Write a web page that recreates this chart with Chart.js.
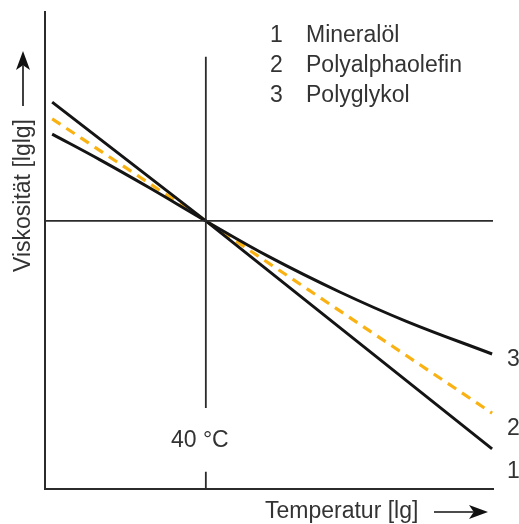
<!DOCTYPE html>
<html>
<head>
<meta charset="utf-8">
<script src="https://cdn.jsdelivr.net/npm/chart.js@4.4.1/dist/chart.umd.min.js"></script>
<style>
  body { margin: 0; background: #fff; }
  #wrap { width: 519px; height: 524px; }
</style>
</head>
<body>
<div id="wrap"><canvas id="viscChart" width="519" height="524"></canvas></div>
<script>
// Curve names and numbers
const curveNumbers = ['1', '2', '3'];
const curveNames = ['Mineralöl', 'Polyalphaolefin', 'Polyglykol'];

// Curve values (abstract log units)
const mineraloelX = [1.6, 35.9, 99.8];
const mineraloelY = [81.1, 56.2, 8.4];
const polyalphaX = [1.6, 35.9, 99.8];
const polyalphaY = [77.6, 56.2, 15.9];
const polyglykolX = [1.6, 12.3, 23.4, 35.9, 50.2, 65.8, 80.8, 99.8];
const polyglykolY = [74.4, 69.0, 63.1, 56.2, 48.6, 41.3, 35.1, 28.3];

// Reference lines (40 °C and the viscosity at 40 °C)
const refTempX = 35.9;
const refTempLabel = '40 °C';
const refLineUpperY = [90.6, 17.0];
const refLineLowerY = [3.6, 0];
const refViscY = 56.2;
const refViscX = [0, 100];

const xTitle = 'Temperatur [lg]';
const yTitle = 'Viskosität [lglg]';

function toPoints(xs, ys) {
    return xs.map((x, i) => ({ x: x, y: ys[i] }));
}

const FONT = '23px "Liberation Sans", Arial, sans-serif';
const TEXT_COLOR = '#333';

// line with a filled arrow head at (x2, y2)
function arrow(ctx, x1, y1, x2, y2) {
    const ang = Math.atan2(y2 - y1, x2 - x1);
    const c = Math.cos(ang), s = Math.sin(ang);
    const len = 19, half = 7, back = 0.75;
    ctx.beginPath();
    ctx.moveTo(x1, y1);
    ctx.lineTo(x2 - c * len * back, y2 - s * len * back);
    ctx.stroke();
    ctx.beginPath();
    ctx.moveTo(x2, y2);
    ctx.lineTo(x2 - c * len - s * half, y2 - s * len + c * half);
    ctx.lineTo(x2 - c * len * back, y2 - s * len * back);
    ctx.lineTo(x2 - c * len + s * half, y2 - s * len - c * half);
    ctx.closePath();
    ctx.fill();
}

// Texts, legend and axis arrows
const textPlugin = {
    id: 'texts',
    afterDraw(chart) {
        const ctx = chart.ctx;
        ctx.save();
        ctx.font = FONT;
        ctx.fillStyle = TEXT_COLOR;
        ctx.textAlign = 'left';
        ctx.textBaseline = 'alphabetic';

        // legend block
        curveNumbers.forEach((num, i) => {
            ctx.fillText(num, 270, 42 + i * 30);
            ctx.fillText(curveNames[i], 306, 42 + i * 30);
        });

        // curve numbers at the right end
        ctx.fillText(curveNumbers[2], 507, 366);
        ctx.fillText(curveNumbers[1], 507, 435);
        ctx.fillText(curveNumbers[0], 507, 478);

        // 40 °C label
        const xs = chart.scales.x;
        ctx.textAlign = 'center';
        ctx.fillText(refTempLabel, xs.getPixelForValue(refTempX) - 6, 447);

        // x title and arrow
        ctx.textAlign = 'left';
        ctx.fillText(xTitle, 265, 518);
        ctx.strokeStyle = '#111';
        ctx.fillStyle = '#111';
        ctx.lineWidth = 1.6;
        arrow(ctx, 434, 512, 488, 512);

        // y title and arrow
        ctx.fillStyle = TEXT_COLOR;
        ctx.save();
        ctx.translate(30, 272);
        ctx.rotate(-Math.PI / 2);
        ctx.fillText(yTitle, 0, 0);
        ctx.restore();
        ctx.fillStyle = '#111';
        arrow(ctx, 23, 106, 23, 51);

        ctx.restore();
    }
};

const ctx = document.getElementById('viscChart').getContext('2d');

const chart = new Chart(ctx, {
    type: 'scatter',
    data: {
        datasets: [
            {
                label: 'ref 40',
                data: toPoints([refTempX, refTempX, refTempX, refTempX, refTempX],
                               [refLineUpperY[0], refLineUpperY[1], null, refLineLowerY[0], refLineLowerY[1]]),
                showLine: true,
                spanGaps: false,
                borderColor: '#2b2b2b',
                borderWidth: 1.8,
                pointRadius: 0
            },
            {
                label: 'ref visc',
                data: toPoints(refViscX, [refViscY, refViscY]),
                showLine: true,
                borderColor: '#2b2b2b',
                borderWidth: 1.8,
                pointRadius: 0
            },
            {
                label: curveNames[0],
                data: toPoints(mineraloelX, mineraloelY),
                showLine: true,
                borderColor: '#141414',
                borderWidth: 3,
                pointRadius: 0
            },
            {
                label: curveNames[2],
                data: toPoints(polyglykolX, polyglykolY),
                showLine: true,
                tension: 0.4,
                borderColor: '#141414',
                borderWidth: 3,
                pointRadius: 0
            },
            {
                label: curveNames[1],
                data: toPoints(polyalphaX, polyalphaY),
                showLine: true,
                borderColor: '#F9B212',
                borderWidth: 3.2,
                borderDash: [10, 7],
                pointRadius: 0
            }
        ]
    },
    options: {
        responsive: false,
        animation: false,
        devicePixelRatio: 1,
        layout: { padding: { left: 45, top: 12, right: 26, bottom: 35 } },
        plugins: {
            legend: { display: false },
            tooltip: { enabled: false }
        },
        scales: {
            x: {
                type: 'linear',
                min: 0,
                max: 100,
                ticks: { display: false },
                grid: { display: false, drawTicks: false, tickLength: 0 },
                border: { display: true, color: '#2b2b2b', width: 2 }
            },
            y: {
                type: 'linear',
                min: 0,
                max: 100,
                ticks: { display: false },
                grid: { display: false, drawTicks: false, tickLength: 0 },
                border: { display: true, color: '#2b2b2b', width: 2 }
            }
        }
    },
    plugins: [textPlugin]
});
</script>
</body>
</html>
